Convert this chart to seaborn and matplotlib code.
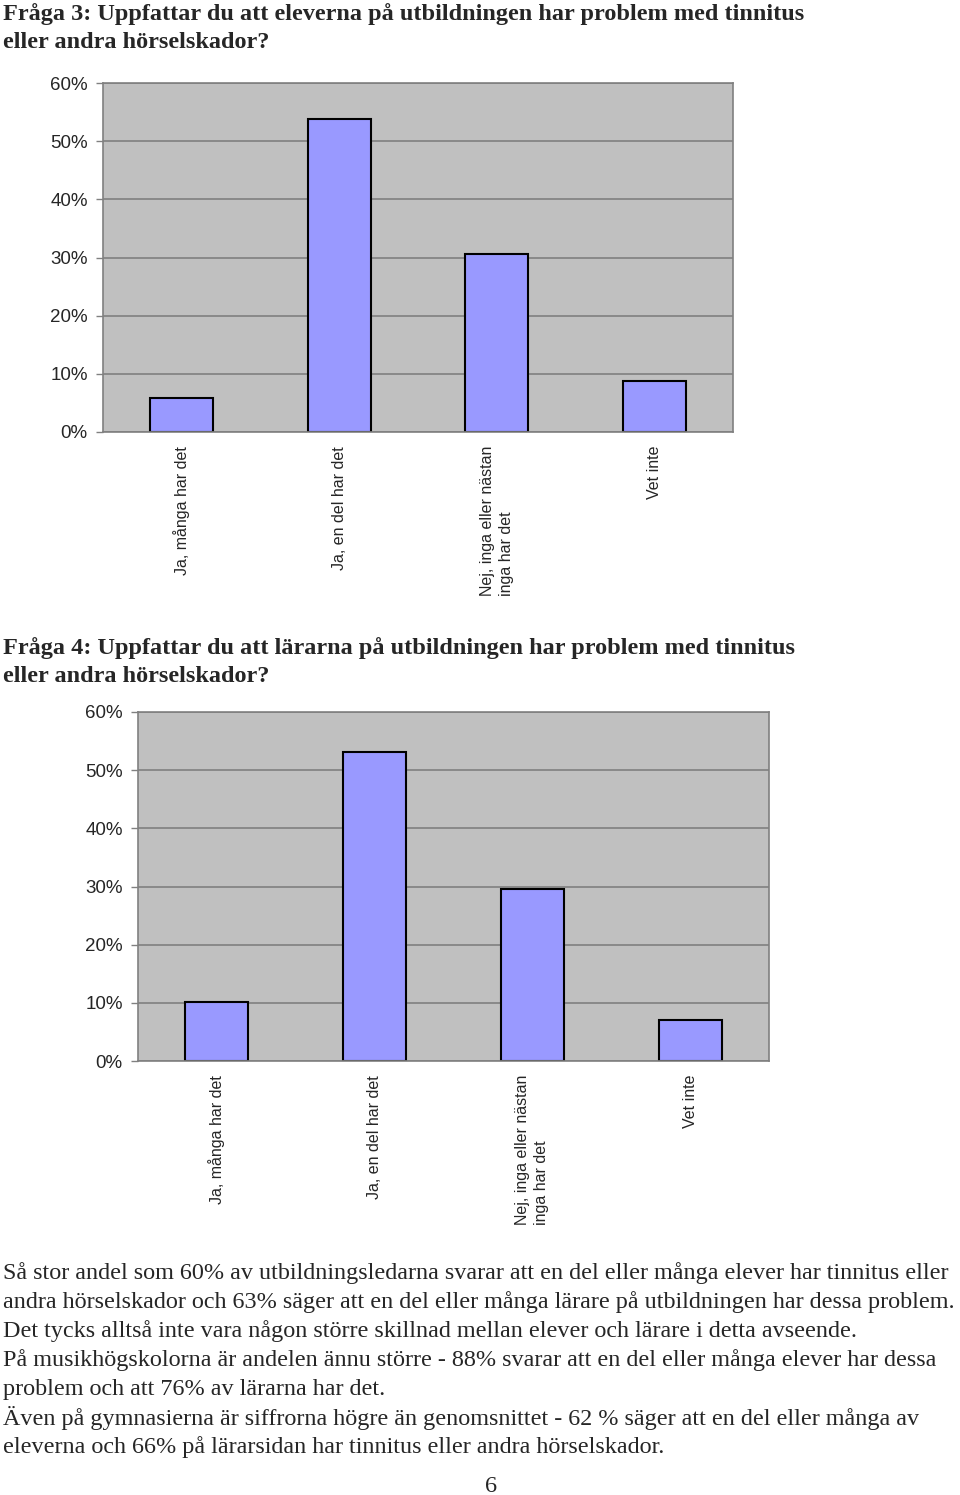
import matplotlib
matplotlib.use("Agg")
import matplotlib.pyplot as plt
import seaborn as sns
import pandas as pd

# Data (percent)
categories = ["Ja, många har det", "Ja, en del har det",
              "Nej, inga eller nästan\ninga har det", "Vet inte"]
elever = [5.8, 53.8, 30.6, 8.8]
larare = [10.1, 53.1, 29.6, 7.0]
yticks = [0, 10, 20, 30, 40, 50, 60]

title3 = ["Fråga 3: Uppfattar du att eleverna på utbildningen har problem med tinnitus",
          "eller andra hörselskador?"]
title4 = ["Fråga 4: Uppfattar du att lärarna på utbildningen har problem med tinnitus",
          "eller andra hörselskador?"]
body = ["Så stor andel som 60% av utbildningsledarna svarar att en del eller många elever har tinnitus eller",
        "andra hörselskador och 63% säger att en del eller många lärare på utbildningen har dessa problem.",
        "Det tycks alltså inte vara någon större skillnad mellan elever och lärare i detta avseende.",
        "På musikhögskolorna är andelen ännu större - 88% svarar att en del eller många elever har dessa",
        "problem och att 76% av lärarna har det.",
        "Även på gymnasierna är siffrorna högre än genomsnittet - 62 % säger att en del eller många av",
        "eleverna och 66% på lärarsidan har tinnitus eller andra hörselskador."]

sns.set_style("white")
plt.rcParams["font.family"] = ["Liberation Sans", "DejaVu Sans"]

W, H = 960, 1495
fig = plt.figure(figsize=(W / 100, H / 100), dpi=100)


def bar_chart(rect, values):
    ax = fig.add_axes(rect)
    df = pd.DataFrame({"kat": categories, "andel": values})
    sns.barplot(data=df, x="kat", y="andel", ax=ax, width=0.4,
                color="#9999ff", edgecolor="black", linewidth=1.5, saturation=1)
    ax.set_facecolor("#c0c0c0")
    ax.set_xlim(-0.5, 3.5)
    ax.set_ylim(0, 60)
    ax.set_yticks(yticks)
    ax.set_yticklabels([f"{t}%" for t in yticks], fontsize=13.5)
    ax.yaxis.grid(True, color="#808080", linewidth=1.2)
    ax.set_axisbelow(True)
    for s in ax.spines.values():
        s.set_color("#808080")
        s.set_linewidth(1.2)
    ax.tick_params(axis="y", length=5, width=1, color="#808080", pad=6, left=True)
    ax.tick_params(axis="x", length=0, pad=10)
    ax.set_xticks(range(len(categories)))
    ax.set_xticklabels(categories, rotation=90, fontsize=11.5, va="top", ha="center")
    for lab in ax.get_xticklabels():
        lab.set_multialignment("left")
        lab.set_linespacing(1.35)
    ax.set_xlabel("")
    ax.set_ylabel("")
    return ax


def px_rect(x0, y_top, x1, y_bot):
    return [x0 / W, 1 - y_bot / H, (x1 - x0) / W, (y_bot - y_top) / H]


bar_chart(px_rect(103, 83, 733, 432), elever)
bar_chart(px_rect(138, 712, 769, 1061), larare)

serif = ["Liberation Serif", "DejaVu Serif"]
for i, line in enumerate(title3):
    fig.text(3 / W, 1 - (14 + 29 * i) / H, line, fontsize=17.5, fontweight="bold",
             family=serif, va="center", ha="left")
for i, line in enumerate(title4):
    fig.text(3 / W, 1 - (648 + 29 * i) / H, line, fontsize=17.5, fontweight="bold",
             family=serif, va="center", ha="left")
for i, line in enumerate(body):
    fig.text(3 / W, 1 - (1273 + 29 * i) / H, line, fontsize=17.4,
             family=serif, va="center", ha="left")
fig.text(491 / W, 1 - 1487 / H, "6", fontsize=17.5, family=serif, va="center", ha="center")

fig.savefig("out.png", dpi=100)
